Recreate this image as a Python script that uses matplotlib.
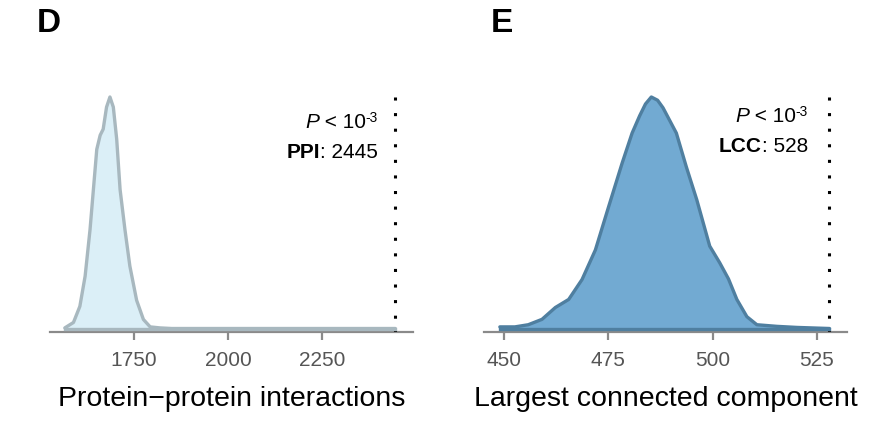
import matplotlib
matplotlib.use("Agg")
import matplotlib.pyplot as plt

plt.rcParams['font.family'] = ['Liberation Sans', 'DejaVu Sans']

# ---- Panel D: protein-protein interactions (null distribution density) ----
ppi_x = [1566, 1589, 1606, 1620, 1633, 1642, 1651, 1660, 1668, 1677, 1686,
         1695, 1704, 1713, 1726, 1739, 1757, 1775, 1793, 1819, 1850, 2445]
ppi_density = [0.00003, 0.0003, 0.0011, 0.0026, 0.0049, 0.0069, 0.0089, 0.0096,
               0.0099, 0.0110, 0.0115, 0.0110, 0.0094, 0.0069, 0.0049, 0.0031,
               0.0014, 0.00045, 0.00008, 0.00003, 0.0, 0.0]
ppi_observed = 2445
ppi_ticks = [1750, 2000, 2250]

# ---- Panel E: largest connected component (null distribution density) ----
lcc_x = [449.0, 452.6, 455.8, 459.1, 462.3, 465.5, 468.7, 471.9, 475.1, 478.3,
         480.7, 482.5, 483.9, 485.3, 486.8, 488.1, 491.3, 493.7, 496.2, 499.3,
         501.7, 503.8, 505.8, 508.2, 510.6, 515.4, 520.2, 528.0]
lcc_density = [0.0003, 0.0003, 0.0007, 0.0017, 0.0039, 0.0054, 0.0091, 0.0146,
               0.0227, 0.0307, 0.0363, 0.0395, 0.0417, 0.0430, 0.0424, 0.0410,
               0.0363, 0.0300, 0.0239, 0.0153, 0.0122, 0.0092, 0.0054, 0.0022,
               0.0007, 0.0004, 0.0002, 0.0]
lcc_observed = 528
lcc_ticks = [450, 475, 500, 525]

W, H = 876, 428
fig = plt.figure(figsize=(W / 100, H / 100), dpi=100)
renderer = fig.canvas.get_renderer()

axis_gray = '#8a8a8a'
tick_txt = '#555555'
ANN_FS = 15


def right_aligned_parts(x_px, base_px, parts):
    """Draw text pieces right-to-left ending at x_px (pixels from left)."""
    cur = x_px
    for s, kw, dy in reversed(parts):
        t = fig.text(cur / W, (H - base_px + dy) / H, s, ha='right',
                     va='baseline', color='black', **kw)
        bb = t.get_window_extent(renderer)
        cur -= bb.width


def make_panel(left_px, right_px, xlim, x, dens, obs, ticks, fill, edge,
               xlabel, letter, letter_x, stat_label, stat_val, txt_right_px,
               txt_base1, txt_base2):
    top_px, axis_px = 80, 331.5
    ax = fig.add_axes([left_px / W, (H - axis_px) / H,
                       (right_px - left_px) / W, (axis_px - top_px) / H])
    peak = max(dens)
    ymin = -3 / 231.5 * peak
    ymax = (axis_px - top_px - 3) / 231.5 * peak
    ax.fill_between(x, dens, 0, color=fill, lw=0, zorder=2)
    ax.plot(x, dens, color=edge, lw=2.4, zorder=3,
            solid_joinstyle='round', solid_capstyle='round')
    ax.plot([x[0], x[-1]], [0, 0], color=edge, lw=2.4, zorder=3)
    ax.plot([obs, obs], [peak, ymin], color='black', lw=2.2,
            linestyle=(0, (1, 4.1)), dash_capstyle='butt', zorder=4)
    ax.set_xlim(*xlim)
    ax.set_ylim(ymin, ymax)
    ax.set_yticks([])
    for s in ['top', 'right', 'left']:
        ax.spines[s].set_visible(False)
    ax.spines['bottom'].set_color(axis_gray)
    ax.spines['bottom'].set_linewidth(1.6)
    ax.set_xticks(ticks)
    ax.set_xticklabels([str(t) for t in ticks])
    ax.tick_params(axis='x', direction='out', length=6, width=1.6,
                   color=axis_gray, labelcolor=tick_txt, labelsize=15, pad=8)
    ax.set_facecolor('none')
    cx = (left_px + right_px) / 2 / W
    fig.text(cx, (H - 406) / H, xlabel, ha='center', va='baseline',
             fontsize=20.5, color='black')
    fig.text(letter_x / W, (H - 32) / H, letter, ha='left', va='baseline',
             fontsize=24, fontweight='bold', color='black')
    right_aligned_parts(txt_right_px, txt_base1, [
        ('P', dict(fontsize=ANN_FS, fontstyle='italic'), 0),
        (' < 10', dict(fontsize=ANN_FS), 0),
        ('-3', dict(fontsize=ANN_FS * 0.66), 6),
    ])
    right_aligned_parts(txt_right_px, txt_base2, [
        (stat_label, dict(fontsize=ANN_FS, fontweight='bold'), 0),
        (': ' + str(stat_val), dict(fontsize=ANN_FS), 0),
    ])
    return ax


make_panel(50, 413, (1526.6, 2492), ppi_x, ppi_density, ppi_observed,
           ppi_ticks, '#dbeff7', '#a8b8bf', 'Protein\u2212protein interactions',
           'D', 37, 'PPI', ppi_observed, 378, 128, 158)
make_panel(484, 847, (445.2, 532.2), lcc_x, lcc_density, lcc_observed,
           lcc_ticks, '#72aad2', '#4f7fa0', 'Largest connected component',
           'E', 491, 'LCC', lcc_observed, 808, 122, 152)

fig.savefig('out.png', dpi=100, facecolor='white')
